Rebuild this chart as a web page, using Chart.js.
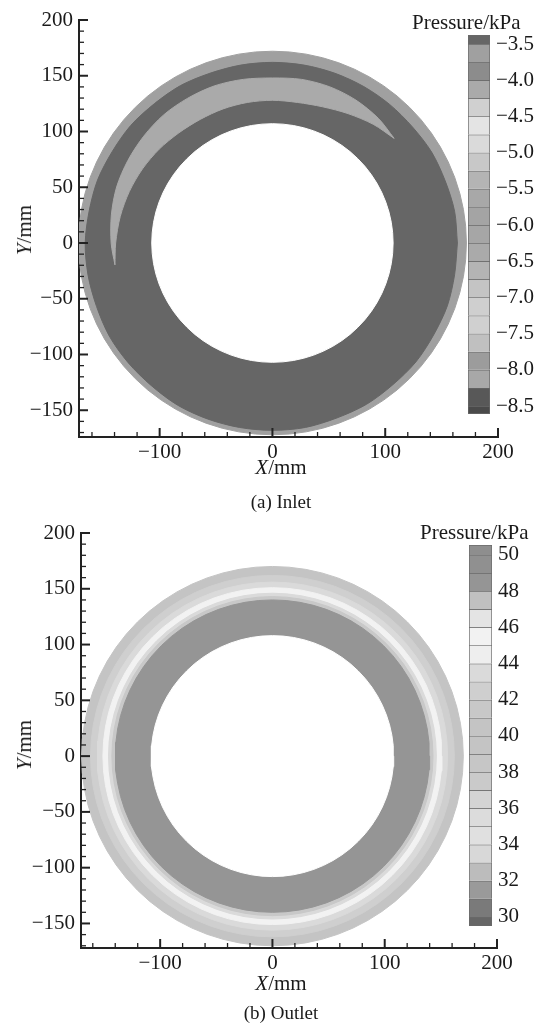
<!DOCTYPE html>
<html lang="en">
  <head>
    <meta charset="utf-8" />
    <style>
      * {
        margin: 0;
        padding: 0;
      }
      body {
        width: 539px;
        height: 1023px;
        position: relative;
        background: #fff;
        overflow: hidden;
        font-family: "Liberation Serif", serif;
        color: #1a1a1a;
      }
      .box {
        position: absolute;
      }
      .lbl {
        position: absolute;
        font-size: 21px;
        line-height: 24px;
        white-space: nowrap;
        transform: translate(-50%, -50%);
      }
      .ylbl {
        transform: translate(-50%, -50%) rotate(-90deg);
      }
      .cap {
        font-size: 19px;
      }
      .unit {
        position: absolute;
        font-size: 21px;
        line-height: 24px;
        white-space: nowrap;
      }
    </style>
  </head>
  <body>
    <div class="box" style="left:0;top:0;width:539px;height:470px"><canvas id="inletRing"></canvas></div>
    <div class="box" style="left:460px;top:0;width:79px;height:430px"><canvas id="inletBar"></canvas></div>
    <div class="unit" style="left:412px;top:10px">Pressure/kPa</div>
    <div class="lbl ylbl" style="left:24px;top:230px"><i>Y</i>/mm</div>
    <div class="lbl" style="left:281px;top:467px"><i>X</i>/mm</div>
    <div class="lbl cap" style="left:281px;top:502px">(a) Inlet</div>

    <div class="box" style="left:0;top:513px;width:539px;height:470px"><canvas id="outletRing"></canvas></div>
    <div class="box" style="left:460px;top:510px;width:79px;height:430px"><canvas id="outletBar"></canvas></div>
    <div class="unit" style="left:420px;top:520px">Pressure/kPa</div>
    <div class="lbl ylbl" style="left:24px;top:745px"><i>Y</i>/mm</div>
    <div class="lbl" style="left:281px;top:983px"><i>X</i>/mm</div>
    <div class="lbl cap" style="left:281px;top:1013px">(b) Outlet</div>

    <script src="https://cdn.jsdelivr.net/npm/chart.js/dist/chart.umd.min.js"></script>
    <script>
      // colour bars: cell edges (kPa, top to bottom) and cell colours
      const inletEdges = [-3.375, -3.5, -3.75, -4.0, -4.25, -4.5, -4.75, -5.0, -5.25, -5.5, -5.75, -6.0,
        -6.25, -6.5, -6.75, -7.0, -7.25, -7.5, -7.75, -8.0, -8.25, -8.5, -8.61];
      const inletColors = ["#666666", "#a0a0a0", "#8c8c8c", "#aaaaaa", "#d0d0d0", "#e4e4e4", "#dadada",
        "#c8c8c8", "#b4b4b4", "#a8a8a8", "#a4a4a4", "#a6a6a6", "#aaaaaa", "#b4b4b4", "#c4c4c4",
        "#cfcfcf", "#d0d0d0", "#c0c0c0", "#9c9c9c", "#a8a8a8", "#585858", "#4a4a4a"];
      const inletTicks = [-3.5, -4.0, -4.5, -5.0, -5.5, -6.0, -6.5, -7.0, -7.5, -8.0, -8.5];

      const outletEdges = [50.55, 50, 49, 48, 47, 46, 45, 44, 43, 42, 41, 40, 39, 38, 37, 36, 35, 34,
        33, 32, 31, 30, 29.5];
      const outletColors = ["#8e8e8e", "#909090", "#959595", "#c0c0c0", "#e4e4e4", "#f2f2f2", "#eeeeee",
        "#dadada", "#cfcfcf", "#c8c8c8", "#c4c4c4", "#c4c4c4", "#c6c6c6", "#cacaca", "#d4d4d4",
        "#dcdcdc", "#e0e0e0", "#d8d8d8", "#bcbcbc", "#9a9a9a", "#7a7a7a", "#666666"];
      const outletTicks = [50, 48, 46, 44, 42, 40, 38, 36, 34, 32, 30];

      // axes (mm)
      const xTicks = [-100, 0, 100, 200];
      const yTicks = [-150, -100, -50, 0, 50, 100, 150, 200];

      // inlet section: radii in mm, pressure level of each zone
      const inletOuter = 172;
      const inletHole = 107;
      const rimAngles = [0, 10, 20, 30, 40, 50, 60, 70, 80, 90, 100, 110, 120, 130, 140, 150, 160, 170,
        180, 190, 200, 210, 220, 230, 240, 250, 260, 270, 280, 290, 300, 310, 320, 330, 340, 350, 360];
      const rimInner = [164, 164, 163, 163, 162, 162, 162, 162, 162, 162, 162, 162, 163, 163, 164, 164,
        165, 165, 166, 166, 166, 167, 167, 167, 168, 168, 168, 168, 168, 167, 167, 166, 166, 165, 165,
        164, 164];
      const crescentAngles = [41, 50, 60, 70, 80, 90, 100, 110, 120, 130, 140, 150, 160, 170, 180, 188];
      const crescentOuter = [143, 146, 148, 149, 149, 148, 149, 150, 150, 150, 149, 148, 147, 145, 143, 141];
      const crescentInner = [143, 139, 134, 130, 128, 128, 128, 128, 128, 129, 131, 133, 135, 137, 139, 141];
      const inletRimLevel = -3.6;
      const inletMainLevel = -3.45;
      const inletCrescentLevel = -4.1;

      // outlet section: concentric bands, outer radius (mm) and pressure level
      const outletBandOuter = [170, 162, 156, 151, 146, 143, 140];
      const outletBandLevel = [40.5, 42.5, 43.5, 45.5, 43.5, 41.5, 48.5];
      const outletHole = 108;

      const serif = "'Liberation Serif', 'Times New Roman', serif";
      const ink = "#1a1a1a";
      const minus = (s) => String(s).replace("-", "\u2212");

      function levelColor(v, edges, colors) {
        for (let i = 0; i < colors.length; i++) {
          const hi = Math.max(edges[i], edges[i + 1]);
          const lo = Math.min(edges[i], edges[i + 1]);
          if (v <= hi && v >= lo) return colors[i];
        }
        return "#ffffff";
      }

      const pt = (deg, r) => ({
        x: r * Math.cos((deg * Math.PI) / 180),
        y: r * Math.sin((deg * Math.PI) / 180),
      });
      const circleAngles = [];
      for (let a = 0; a <= 360; a += 5) circleAngles.push(a);
      const circle = (r) => circleAngles.map((a) => pt(a, r));

      function shapes(list) {
        // list is painted bottom first
        return list.map((s, i) => ({
          data: s.data,
          backgroundColor: s.color,
          borderColor: s.color,
          borderWidth: 1,
          fill: "shape",
          showLine: true,
          pointRadius: 0,
          tension: s.smooth || 0,
          order: list.length - i,
        }));
      }

      const inwardTicks = {
        id: "inwardTicks",
        afterDraw(chart) {
          const { ctx, chartArea: a, scales } = chart;
          const x = scales.x;
          const y = scales.y;
          ctx.save();
          ctx.strokeStyle = "#222";
          for (let v = -160; v <= 200; v += 20) {
            const px = x.getPixelForValue(v);
            const major = v % 100 === 0;
            ctx.lineWidth = major ? 2 : 1.3;
            ctx.beginPath();
            ctx.moveTo(px, a.bottom);
            ctx.lineTo(px, a.bottom - (major ? 9 : 5));
            ctx.stroke();
          }
          for (let v = -170; v <= 200; v += 10) {
            const py = y.getPixelForValue(v);
            const major = v % 50 === 0;
            ctx.lineWidth = major ? 2 : 1.3;
            ctx.beginPath();
            ctx.moveTo(a.left, py);
            ctx.lineTo(a.left + (major ? 9 : 5), py);
            ctx.stroke();
          }
          ctx.restore();
        },
      };

      function ringChart(id, datasets, box) {
        const font = { family: serif, size: 21 };
        return new Chart(document.getElementById(id), {
          type: "scatter",
          data: { datasets },
          options: {
            responsive: true,
            maintainAspectRatio: false,
            animation: false,
            layout: { padding: { top: 20, right: box.padRight, left: 0, bottom: 0 } },
            plugins: { legend: { display: false }, tooltip: { enabled: false } },
            scales: {
              x: {
                type: "linear",
                min: box.xMin,
                max: 200,
                afterBuildTicks: (s) => {
                  s.ticks = xTicks.map((v) => ({ value: v }));
                },
                afterFit: (s) => {
                  s.height = box.axisH;
                  s.paddingLeft = 0;
                  s.paddingRight = 0;
                },
                grid: { display: false, drawTicks: false },
                border: { display: true, color: "#222", width: 2 },
                ticks: { padding: 3, font, color: ink, maxRotation: 0, callback: (v) => minus(v) },
              },
              y: {
                type: "linear",
                min: box.yMin,
                max: 200,
                afterBuildTicks: (s) => {
                  s.ticks = yTicks.map((v) => ({ value: v }));
                },
                afterFit: (s) => {
                  s.width = box.axisW;
                  s.paddingTop = 0;
                  s.paddingBottom = 0;
                },
                grid: { display: false, drawTicks: false },
                border: { display: true, color: "#222", width: 2 },
                ticks: { padding: 6, font, color: ink, callback: (v) => minus(v) },
              },
            },
          },
          plugins: [inwardTicks],
        });
      }

      function colorBar(id, edges, colors, ticks, digits, area) {
        const last = colors.length - 1;
        const datasets = colors.map((c, i) => ({
          data: [[edges[i + 1], edges[i]]],
          backgroundColor: c,
          borderColor: "#6a6a6a",
          borderWidth: { top: 1, left: 1, right: 1, bottom: i === last ? 1 : 0 },
          borderSkipped: false,
          grouped: false,
          barPercentage: 1,
          categoryPercentage: 1,
        }));
        return new Chart(document.getElementById(id), {
          type: "bar",
          data: { labels: [""], datasets },
          options: {
            responsive: true,
            maintainAspectRatio: false,
            animation: false,
            layout: { padding: { left: area.left, top: area.top, bottom: area.bottom, right: 0 } },
            plugins: { legend: { display: false }, tooltip: { enabled: false } },
            scales: {
              x: { display: false },
              y: {
                position: "right",
                min: edges[edges.length - 1],
                max: edges[0],
                afterBuildTicks: (s) => {
                  s.ticks = ticks.map((v) => ({ value: v }));
                },
                afterFit: (s) => {
                  s.width = area.axisW;
                  s.paddingTop = 0;
                  s.paddingBottom = 0;
                },
                grid: { display: false, drawTicks: false },
                border: { display: false },
                ticks: {
                  padding: 6,
                  font: { family: serif, size: 21 },
                  color: ink,
                  callback: (v) => minus(Number(v).toFixed(digits)),
                },
              },
            },
          },
        });
      }

      // (a) inlet
      const crescent = crescentAngles
        .map((a, i) => pt(a, crescentOuter[i]))
        .concat(crescentAngles.slice().reverse().map((a, i) => pt(a, crescentInner[crescentInner.length - 1 - i])));
      crescent.push(crescent[0]);
      const inletShapes = shapes([
        { data: circle(inletOuter), color: levelColor(inletRimLevel, inletEdges, inletColors) },
        { data: rimAngles.map((a, i) => pt(a, rimInner[i])), color: levelColor(inletMainLevel, inletEdges, inletColors), smooth: 0.3 },
        { data: crescent, color: levelColor(inletCrescentLevel, inletEdges, inletColors), smooth: 0.3 },
        { data: circle(inletHole), color: "#ffffff" },
      ]);
      ringChart("inletRing", inletShapes, { xMin: -171.5, yMin: -174, axisW: 79, axisH: 33, padRight: 41 });
      colorBar("inletBar", inletEdges, inletColors, inletTicks, 1, { left: 8, top: 35, bottom: 16, axisW: 49 });

      // (b) outlet
      const outletList = outletBandOuter.map((r, i) => ({
        data: circle(r),
        color: levelColor(outletBandLevel[i], outletEdges, outletColors),
      }));
      outletList.push({ data: circle(outletHole), color: "#ffffff" });
      ringChart("outletRing", shapes(outletList), { xMin: -170.5, yMin: -172, axisW: 81, axisH: 35, padRight: 42 });
      colorBar("outletBar", outletEdges, outletColors, outletTicks, 0, { left: 9, top: 35, bottom: 14, axisW: 47 });
    </script>
  </body>
</html>
